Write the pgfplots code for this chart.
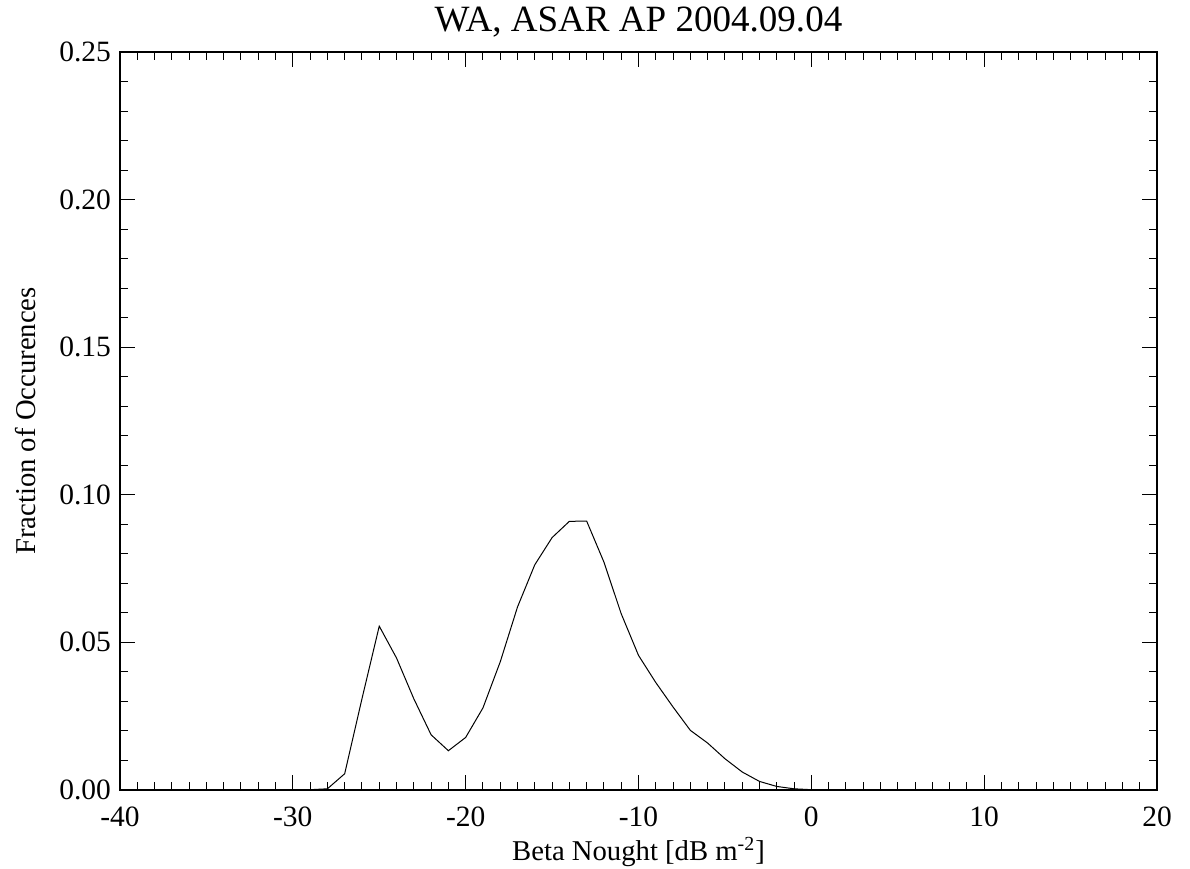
\documentclass[border=0pt]{standalone}
\usepackage{fontspec}
\setmainfont{Liberation Serif}
\usepackage{pgfplots}
\pgfplotsset{compat=1.18}

\begin{document}
\begin{tikzpicture}
\begin{axis}[
  scale only axis,
  width=518.5bp, height=369bp,
  xmin=-40, xmax=20, ymin=0, ymax=0.25,
  xtick={-40,-30,-20,-10,0,10,20},
  xticklabels={-40,-30,-20,-10,0,10,20},
  ytick={0,0.05,0.10,0.15,0.20,0.25},
  yticklabels={0.00,0.05,0.10,0.15,0.20,0.25},
  minor x tick num=9,
  minor y tick num=4,
  tick align=inside,
  major tick length=7.5bp,
  minor tick length=4bp,
  every tick/.style={black, line width=0.5bp},
  axis line style={line width=0.7bp},
  tick label style={font=\fontsize{14.8}{16}\selectfont},
  xticklabel style={yshift=-5bp},
  yticklabel style={xshift=-1bp},
  title={WA, ASAR AP 2004.09.04},
  title style={font=\fontsize{18.6}{20}\selectfont, yshift=-2bp},
  xlabel={Beta Nought [dB m\textsuperscript{-2}]},
  ylabel={Fraction of Occurences},
  label style={font=\fontsize{14.4}{16}\selectfont},
  xlabel style={inner sep=1bp, yshift=-0.5bp},
  ylabel style={yshift=5bp},
]
\addplot[black, line width=0.5bp] coordinates {
(-40,0)(-39,0)(-38,0)(-37,0)(-36,0)(-35,0)(-34,0)(-33,0)(-32,0)(-31,0)(-30,0)
(-29,0.0001)(-28,0.0004)(-27,0.0055)(-26,0.0309)(-25,0.0555)(-24,0.0447)
(-23,0.0309)(-22,0.0187)(-21,0.0133)(-20,0.0178)(-19,0.0278)(-18,0.0434)
(-17,0.0620)(-16,0.0763)(-15,0.0855)(-14,0.0910)(-13,0.0911)(-12,0.0772)
(-11,0.0597)(-10,0.0456)(-9,0.0364)(-8,0.0281)(-7,0.0202)(-6,0.0159)
(-5,0.0106)(-4,0.0061)(-3,0.0029)(-2,0.0012)(-1,0.0004)(0,0.0001)
(1,0)(2,0)(3,0)(4,0)(5,0)(6,0)(7,0)(8,0)(9,0)(10,0)(11,0)(12,0)(13,0)(14,0)
(15,0)(16,0)(17,0)(18,0)(19,0)(20,0)
};
\end{axis}
\path (current axis.south west) ++(-60bp,-38.5bp) coordinate (bbsw);
\path (current axis.north east) ++(16.5bp,25bp) coordinate (bbne);
\useasboundingbox (bbsw) rectangle (bbne);
\end{tikzpicture}
\end{document}
